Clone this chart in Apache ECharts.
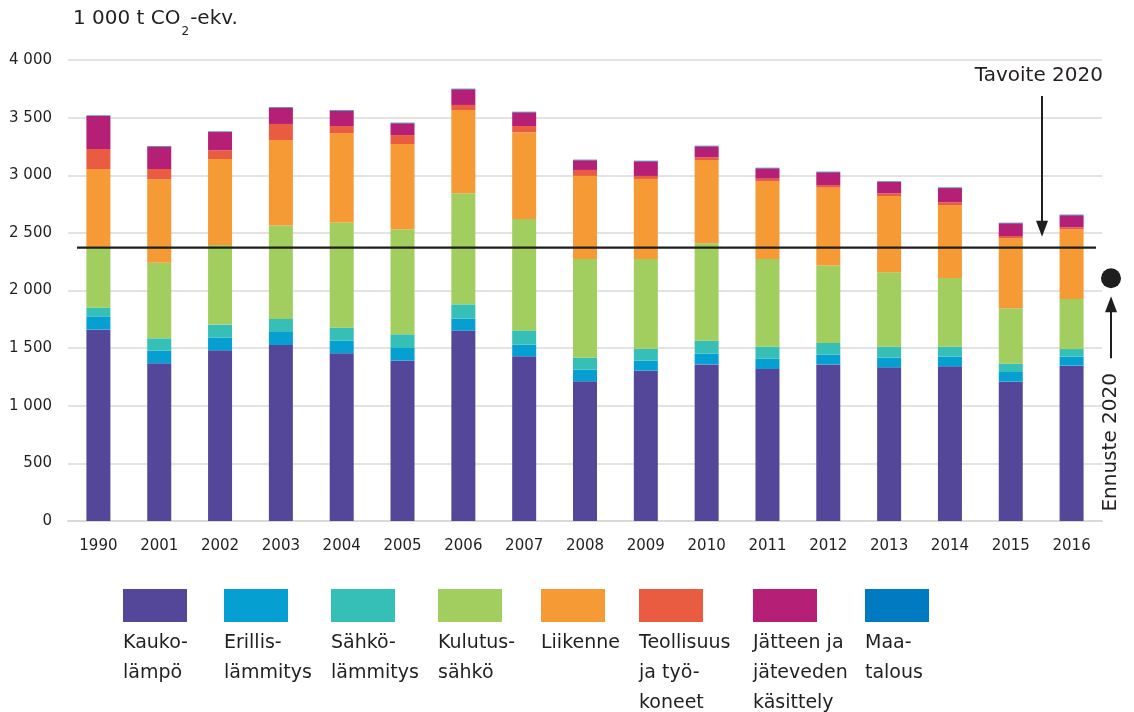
<!DOCTYPE html>
<html>
<head>
<meta charset="utf-8">
<script src="https://cdn.jsdelivr.net/npm/echarts@6/dist/echarts.min.js"></script>
<style>
  html, body { margin: 0; padding: 0; background: #fff; }
  #main { width: 1134px; height: 712px; }
</style>
</head>
<body>
<div id="main"></div>
<script>
// values in 1 000 t CO2-ekv.
const years = ['1990', '2001', '2002', '2003', '2004', '2005', '2006', '2007', '2008',
  '2009', '2010', '2011', '2012', '2013', '2014', '2015', '2016'];
const kaukolampo = [1660, 1368, 1481, 1527, 1455, 1391, 1652, 1429, 1212, 1304, 1359, 1319, 1359, 1333, 1342, 1209, 1348];
const erillislammitys = [116, 110, 110, 113, 110, 110, 104, 101, 101, 87, 93, 89, 84, 84, 84, 84, 78];
const sahkolammitys = [75, 107, 113, 113, 112, 119, 124, 124, 104, 104, 113, 104, 102, 95, 86, 72, 66];
const kulutussahko = [529, 656, 691, 810, 914, 911, 963, 966, 856, 778, 844, 761, 673, 646, 596, 480, 434];
const liikenne = [674, 724, 746, 743, 773, 740, 723, 752, 721, 695, 723, 677, 674, 662, 634, 608, 605];
const teollisuus = [174, 89, 75, 139, 63, 78, 44, 55, 52, 26, 24, 20, 23, 23, 23, 20, 17];
const jatteet = [286, 194, 159, 141, 133, 102, 136, 119, 84, 127, 95, 90, 111, 99, 124, 110, 105];
const maatalous = [5, 5, 5, 5, 5, 5, 5, 5, 5, 5, 5, 5, 5, 5, 5, 5, 5];

const tavoite2020 = 2372;
const ennuste2020 = 2106;

const seriesNames = ['Kaukolämpö', 'Erillislämmitys', 'Sähkölämmitys', 'Kulutussähkö',
  'Liikenne', 'Teollisuus ja työkoneet', 'Jätteen ja jäteveden käsittely', 'Maatalous'];
const legendLabels = ['Kauko-\nlämpö', 'Erillis-\nlämmitys', 'Sähkö-\nlämmitys', 'Kulutus-\nsähkö',
  'Liikenne', 'Teollisuus\nja työ-\nkoneet', 'Jätteen ja\njäteveden\nkäsittely', 'Maa-\ntalous'];
const seriesData = [kaukolampo, erillislammitys, sahkolammitys, kulutussahko,
  liikenne, teollisuus, jatteet, maatalous];
const colors = ['#544799', '#069fd2', '#36bfb7', '#a2cd5f', '#f59a35', '#ea5c41', '#b52076', '#007bc2'];

// layout of the hand placed legend
const legendX = [123, 224, 331, 438, 541, 639, 753, 865];

const font = 'DejaVu Sans';
const textColor = '#231f20';

let myChart = echarts.init(document.getElementById('main'));

const option = {
  animation: false,
  color: colors,
  textStyle: { fontFamily: font },
  grid: {
    left: 68,
    right: 32,
    top: 60,
    bottom: 191,
  },
  xAxis: {
    type: 'category',
    data: years,
    axisTick: { show: false },
    axisLine: {
      lineStyle: { color: '#d9d9d9', width: 2 },
    },
    axisLabel: {
      color: textColor,
      fontSize: 15,
      margin: 18,
    },
  },
  yAxis: {
    type: 'value',
    min: 0,
    max: 4000,
    interval: 500,
    axisLine: { show: false },
    axisTick: { show: false },
    axisLabel: {
      color: textColor,
      fontSize: 15,
      margin: 16,
      formatter: (v) => String(v).replace(/\B(?=(\d{3})+(?!\d))/g, ' '),
    },
    splitLine: {
      lineStyle: { color: '#dadada', width: 1.5 },
    },
  },
  series: seriesData.map((d, i) => {
    return {
      name: seriesNames[i],
      type: 'bar',
      stack: 'total',
      barWidth: 24,
      data: d,
      itemStyle: { color: colors[i] },
    };
  }),
};

option && myChart.setOption(option);

// annotations placed on the value scale
const yT = myChart.convertToPixel({ yAxisIndex: 0 }, tavoite2020);
const yF = myChart.convertToPixel({ yAxisIndex: 0 }, ennuste2020);

// title with subscript, pieces measured to sit side by side
const ctx = document.createElement('canvas').getContext('2d');
ctx.font = '20px "' + font + '"';
const w1 = ctx.measureText('1 000 t CO').width;
ctx.font = '12px "' + font + '"';
const w2 = ctx.measureText('2').width;

const titleStyle = (text, size) => ({
  text: text,
  fontSize: size,
  fontFamily: font,
  fill: textColor,
  align: 'left',
  verticalAlign: 'bottom',
});

const graphics = [
  { type: 'text', z: 100, x: 73, y: 29, style: titleStyle('1 000 t CO', 20) },
  { type: 'text', z: 100, x: 73 + w1 + 1, y: 38, style: titleStyle('2', 12) },
  { type: 'text', z: 100, x: 73 + w1 + w2 + 2, y: 29, style: titleStyle('-ekv.', 20) },
  {
    type: 'line',
    z: 100,
    shape: { x1: 77, y1: yT, x2: 1096, y2: yT },
    style: { stroke: '#1e1e1e', lineWidth: 2.4 },
  },
  {
    type: 'text',
    z: 100,
    x: 1103,
    y: 76,
    style: {
      text: 'Tavoite 2020',
      align: 'right',
      verticalAlign: 'middle',
      fontSize: 20,
      fontFamily: font,
      fill: textColor,
    },
  },
  {
    type: 'line',
    z: 100,
    shape: { x1: 1042, y1: 96, x2: 1042, y2: yT - 20 },
    style: { stroke: '#1e1e1e', lineWidth: 2 },
  },
  {
    type: 'polygon',
    z: 100,
    shape: { points: [[1042, yT - 11], [1036, yT - 27], [1048, yT - 27]] },
    style: { fill: '#1e1e1e' },
  },
  {
    type: 'circle',
    z: 100,
    shape: { cx: 1111, cy: yF, r: 10 },
    style: { fill: '#1e1e1e' },
  },
  {
    type: 'polygon',
    z: 100,
    shape: { points: [[1111, yF + 18], [1105, yF + 34], [1117, yF + 34]] },
    style: { fill: '#1e1e1e' },
  },
  {
    type: 'line',
    z: 100,
    shape: { x1: 1111, y1: yF + 28, x2: 1111, y2: yF + 80 },
    style: { stroke: '#1e1e1e', lineWidth: 2 },
  },
  {
    type: 'text',
    z: 100,
    x: 1111,
    y: yF + 164,
    rotation: Math.PI / 2,
    style: {
      text: 'Ennuste 2020',
      align: 'center',
      verticalAlign: 'middle',
      fontSize: 20,
      fontFamily: font,
      fill: textColor,
    },
  },
];

legendLabels.forEach((label, i) => {
  graphics.push({
    type: 'rect',
    z: 100,
    shape: { x: legendX[i], y: 589, width: 64, height: 33 },
    style: { fill: colors[i] },
  });
  graphics.push({
    type: 'text',
    z: 100,
    x: legendX[i],
    y: 628,
    style: {
      text: label,
      align: 'left',
      verticalAlign: 'top',
      fontSize: 19,
      lineHeight: 30,
      fontFamily: font,
      fill: textColor,
    },
  });
});

myChart.setOption({ graphic: graphics });

window.addEventListener('resize', () => {
  myChart.resize();
});
</script>
</body>
</html>
